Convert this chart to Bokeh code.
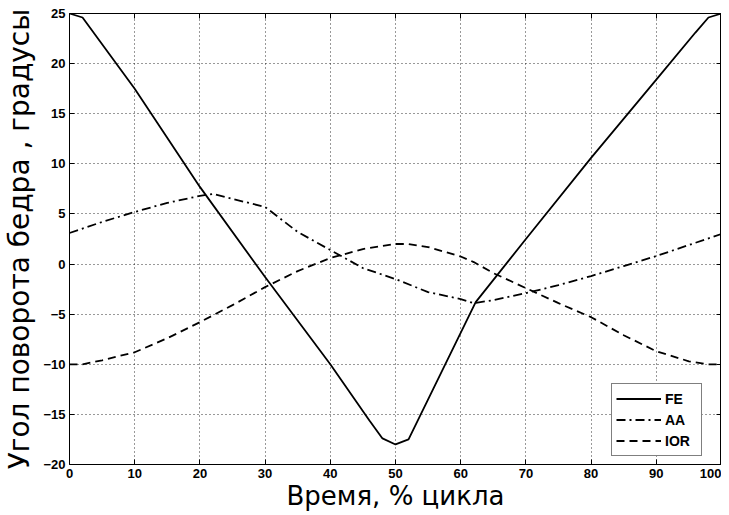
from bokeh.plotting import figure
from bokeh.models import Range1d, LinearAxis, FixedTicker, Legend, LegendItem, CustomJSTickFormatter
from bokeh.embed import file_html
from bokeh.resources import INLINE

# data
fe_x = [0, 2, 10, 20, 30, 40, 46, 48, 50, 52, 62.3, 70, 80, 90, 96, 98, 100]
fe_y = [25, 24.6, 17.5, 7.7, -1.3, -10, -15.6, -17.4, -18, -17.5, -3.8, 2.5, 10.6, 18.4, 23.1, 24.6, 25]

aa_x = [0, 5, 10, 15, 20, 22, 25, 30, 35, 40, 45, 50, 55, 60, 62, 65, 70, 75, 80, 85, 90, 95, 100]
aa_y = [3.1, 4.2, 5.2, 6.1, 6.8, 7.0, 6.5, 5.7, 3.2, 1.4, -0.4, -1.5, -2.8, -3.5, -3.9, -3.6, -2.9, -2.1, -1.2, -0.2, 0.8, 1.9, 3.0]

ior_x = [0, 2, 5, 10, 15, 20, 25, 30, 35, 40, 45, 50, 52, 55, 60, 62, 65, 70, 75, 80, 85, 90, 95, 98, 100]
ior_y = [-10, -10, -9.6, -8.8, -7.4, -5.8, -4.1, -2.3, -0.7, 0.6, 1.5, 2.0, 2.0, 1.7, 0.75, 0.2, -0.9, -2.4, -3.9, -5.3, -7.1, -8.7, -9.7, -10, -10]

x_ticks = list(range(0, 101, 10))
y_ticks = list(range(-20, 26, 5))

x_label = "Время, % цикла"
y_label = "Угол поворота бедра , градусы"

p = figure(frame_width=652, frame_height=451, output_backend="svg", toolbar_location=None,
           x_range=Range1d(0, 100), y_range=Range1d(-20, 25),
           min_border_left=62, min_border_top=13, min_border_right=0, min_border_bottom=42)

p.outline_line_color = "black"
p.outline_line_width = 1
p.background_fill_color = "white"
p.border_fill_color = "white"

def style_axis(ax, ticks, show_labels=True):
    ax.ticker = FixedTicker(ticks=ticks)
    ax.major_tick_in = 5
    ax.major_tick_out = 0
    ax.minor_tick_line_color = None
    ax.axis_line_color = None
    ax.major_tick_line_color = "black"
    if show_labels:
        ax.major_label_text_font = "Liberation Sans"
        ax.major_label_text_font_style = "bold"
        ax.major_label_text_font_size = "13px"
        ax.major_label_text_color = "black"
        ax.major_label_standoff = 4
    else:
        ax.formatter = CustomJSTickFormatter(code="return ''")
        ax.major_label_standoff = 0

style_axis(p.xaxis[0], x_ticks)
style_axis(p.yaxis[0], y_ticks)
p.xaxis[0].axis_label = x_label
p.yaxis[0].axis_label = y_label
for ax in (p.xaxis[0], p.yaxis[0]):
    ax.axis_label_text_font = "DejaVu Sans"
    ax.axis_label_text_font_style = "normal"
    ax.axis_label_text_color = "black"
p.xaxis[0].axis_label_text_font_size = "26px"
p.yaxis[0].axis_label_text_font_size = "28px"
p.xaxis[0].axis_label_standoff = 0
p.yaxis[0].axis_label_standoff = 4

ra = LinearAxis()
style_axis(ra, y_ticks, show_labels=False)
p.add_layout(ra, "right")
ta = LinearAxis()
style_axis(ta, x_ticks, show_labels=False)
p.add_layout(ta, "above")

for g, t in ((p.xgrid[0], x_ticks), (p.ygrid[0], y_ticks)):
    g.ticker = FixedTicker(ticks=t)
    g.grid_line_color = "black"
    g.grid_line_dash = "1 3"
    g.grid_line_width = 1
    g.grid_line_alpha = 0.8

r_fe = p.line(fe_x, fe_y, line_color="black", line_width=1.8)
r_aa = p.line(aa_x, aa_y, line_color="black", line_width=1.8, line_dash="9 4 2 4")
r_ior = p.line(ior_x, ior_y, line_color="black", line_width=1.8, line_dash="8 5")

legend = Legend(items=[LegendItem(label="FE", renderers=[r_fe]),
                       LegendItem(label="AA", renderers=[r_aa]),
                       LegendItem(label="IOR", renderers=[r_ior])],
                location=(542, 8))
legend.label_text_font = "Liberation Sans"
legend.label_text_font_style = "bold"
legend.label_text_font_size = "14px"
legend.label_text_color = "black"
legend.label_height = 21
legend.label_width = 32
legend.glyph_height = 21
legend.glyph_width = 45
legend.label_standoff = 4
legend.spacing = 0
legend.padding = 4
legend.margin = 0
legend.border_line_color = "black"
legend.border_line_width = 1
legend.background_fill_alpha = 1
p.add_layout(legend, "center")

open("out.html", "w").write(file_html(p, INLINE))
